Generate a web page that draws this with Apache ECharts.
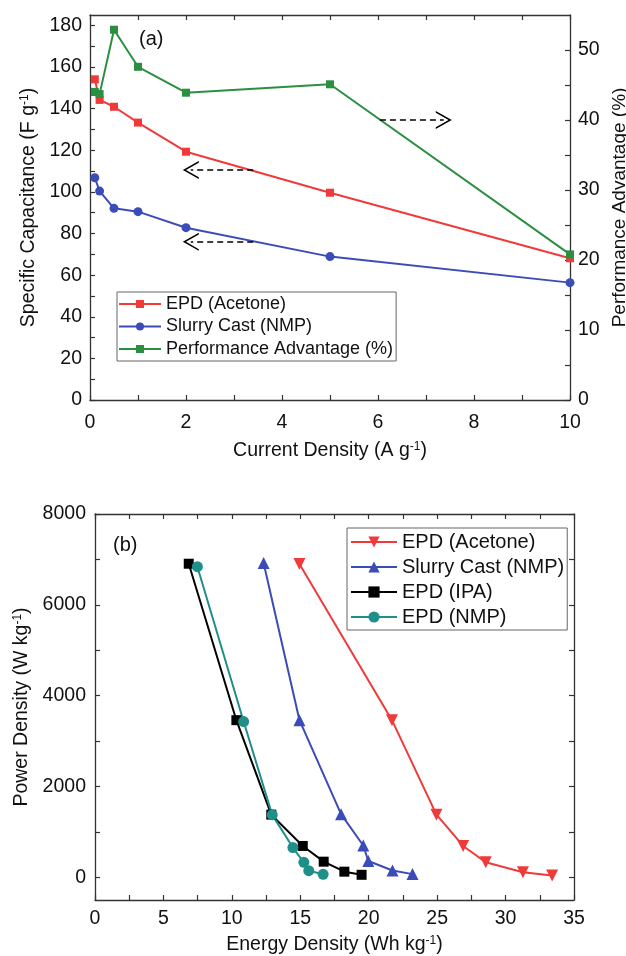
<!DOCTYPE html>
<html>
<head>
<meta charset="utf-8">
<script src="https://cdn.jsdelivr.net/npm/echarts@6/dist/echarts.min.js"></script>
<style>
html,body{margin:0;padding:0;background:#fff;}
#chart{width:626px;height:956px;}
</style>
</head>
<body>
<div id="chart"></div>
<script>
// ---------- Panel (a) data ----------
const currentDensity = [0.1, 0.2, 0.5, 1, 2, 5, 10];
const capEPDAcetone = [154.1, 144.2, 140.9, 133.3, 119.3, 99.6, 68.1];
const capSlurryNMP = [106.8, 100.4, 92.1, 90.5, 82.8, 68.9, 56.4];
const perfAdvantage = [44.0, 43.7, 52.9, 47.6, 43.9, 45.1, 20.8];
// dashed arrow annotations: [tailX, y, headX]
const leftArrows = [[3.4, 110.5, 2.1], [3.4, 76, 2.1]];
const rightArrows = [[6.04, 40, 7.37]];

// ---------- Panel (b) data ----------
const energyEPDAcetone = [14.94, 21.7, 24.95, 26.9, 28.55, 31.27, 33.4];
const powerEPDAcetone = [6900, 3460, 1380, 690, 330, 110, 40];
const energySlurry = [12.32, 14.94, 17.98, 19.6, 19.97, 21.74, 23.2];
const powerSlurry = [6920, 3460, 1390, 700, 360, 150, 70];
const energyEPDIPA = [6.85, 10.33, 12.88, 15.18, 16.71, 18.22, 19.48];
const powerEPDIPA = [6905, 3460, 1380, 690, 344, 124, 55];
const energyEPDNMP = [7.48, 10.86, 12.95, 14.46, 15.26, 15.62, 16.67];
const powerEPDNMP = [6840, 3430, 1375, 655, 330, 145, 66];

const zip = (xs, ys) => xs.map((x, i) => [x, ys[i]]);

const FONT = 'Arial, "Liberation Sans", sans-serif';
const RED = '#f03a3a', BLUE = '#3b4cb8', GREEN = '#2b8f40', BLACK = '#000000', TEAL = '#1f8f8a';
const AX = '#333';

const rich = {
  n: {fontSize: 19.5, fontFamily: FONT, color: '#111'},
  s: {fontSize: 12, fontFamily: FONT, color: '#111', verticalAlign: 'top'}
};

const chevron = 'path://M0,14 L8,0 L16,14 L14.5,14 L8,2.8 L1.5,14 Z';

function axisCommon(extra) {
  return Object.assign({
    type: 'value',
    axisLine: {show: true, onZero: false, lineStyle: {color: AX, width: 1.3}},
    axisTick: {show: true, inside: true, length: 5, lineStyle: {color: AX, width: 1.2}},
    splitLine: {show: false},
    axisLabel: {fontSize: 19.5, fontFamily: FONT, color: '#111'},
    nameTextStyle: {fontSize: 19.5, fontFamily: FONT, color: '#111', rich: rich}
  }, extra);
}

const chart = echarts.init(document.getElementById('chart'), null, {renderer: 'canvas'});

const option = {
  backgroundColor: '#fff',
  animation: false,
  grid: [
    {left: 90, right: 56, top: 15, height: 385, containLabel: false, outerBoundsMode: 'none'},
    {left: 95, right: 52, top: 514, height: 386, containLabel: false, outerBoundsMode: 'none'}
  ],
  xAxis: [
    axisCommon({gridIndex: 0, min: 0, max: 10, interval: 1, position: 'bottom',
      axisLabel: {fontSize: 19.5, fontFamily: FONT, color: '#111', margin: 13,
        formatter: v => (v % 2 === 0 ? String(v) : '')},
      name: '{n|Current Density (A g}{s|-1}{n|)}', nameLocation: 'middle', nameGap: 41}),
    axisCommon({gridIndex: 0, min: 0, max: 10, interval: 1, position: 'top',
      axisLabel: {show: false}}),
    axisCommon({gridIndex: 1, min: 0, max: 35, interval: 2.5, position: 'bottom',
      axisLabel: {fontSize: 19.5, fontFamily: FONT, color: '#111', margin: 9,
        formatter: v => (v % 5 === 0 ? String(v) : '')},
      name: '{n|Energy Density (Wh kg}{s|-1}{n|)}', nameLocation: 'middle', nameGap: 35}),
    axisCommon({gridIndex: 1, min: 0, max: 35, interval: 2.5, position: 'top',
      axisLabel: {show: false}})
  ],
  yAxis: [
    axisCommon({gridIndex: 0, min: 0, max: 185, interval: 10, position: 'left',
      axisLabel: {fontSize: 19.5, fontFamily: FONT, color: '#111', margin: 8, showMaxLabel: false,
        formatter: v => (v % 20 === 0 && v <= 180 ? String(v) : '')},
      name: '{n|Specific Capacitance (F g}{s|-1}{n|)}', nameLocation: 'middle', nameGap: 51}),
    axisCommon({gridIndex: 0, min: 0, max: 55, interval: 5, position: 'right',
      axisLabel: {fontSize: 19.5, fontFamily: FONT, color: '#111', margin: 8, showMaxLabel: false,
        formatter: v => (v % 10 === 0 && v <= 50 ? String(v) : '')},
      name: 'Performance Advantage (%)', nameLocation: 'middle', nameGap: 24,
      nameTextStyle: {fontSize: 19, fontFamily: FONT, color: '#111'}}),
    axisCommon({gridIndex: 1, min: -500, max: 8000, position: 'left',
      axisTick: {show: true, inside: true, length: 5, lineStyle: {color: AX, width: 1.2},
        customValues: [0, 1000, 2000, 3000, 4000, 5000, 6000, 7000, 8000]},
      axisLabel: {fontSize: 19.5, fontFamily: FONT, color: '#111', margin: 9,
        customValues: [0, 2000, 4000, 6000, 8000], formatter: v => String(v)},
      name: '{n|Power Density (W kg}{s|-1}{n|)}', nameLocation: 'middle', nameGap: 56}),
    axisCommon({gridIndex: 1, min: -500, max: 8000, position: 'right',
      axisTick: {show: true, inside: true, length: 5, lineStyle: {color: AX, width: 1.2},
        customValues: [0, 1000, 2000, 3000, 4000, 5000, 6000, 7000, 8000]},
      axisLabel: {show: false}})
  ],
  legend: [
    {
      orient: 'vertical', left: 117, top: 292,
      data: ['EPD (Acetone)', 'Slurry Cast (NMP)', 'Performance Advantage (%)'],
      itemWidth: 42, itemHeight: 10, itemGap: 4.5,
      padding: [3, 3, 3, 1],
      borderColor: '#666', borderWidth: 1, borderRadius: 0,
      textStyle: {fontSize: 18, fontFamily: FONT, color: '#111'},
      selectedMode: false
    },
    {
      orient: 'vertical', left: 347, top: 528,
      data: ['EPD (Acetone) ', 'Slurry Cast (NMP) ', 'EPD (IPA)', 'EPD (NMP)'],
      formatter: name => name.trim(),
      itemWidth: 46, itemHeight: 14, itemGap: 5,
      padding: [4, 3, 3, 3],
      borderColor: '#666', borderWidth: 1, borderRadius: 0,
      textStyle: {fontSize: 20, fontFamily: FONT, color: '#111'},
      selectedMode: false
    }
  ],
  graphic: [
    {type: 'text', left: 139, top: 29, style: {text: '(a)', fontSize: 20, fontFamily: FONT, fill: '#111'}},
    {type: 'text', left: 113, top: 535, style: {text: '(b)', fontSize: 20, fontFamily: FONT, fill: '#111'}}
  ],
  series: [
    {
      name: 'EPD (Acetone)', type: 'line', xAxisIndex: 0, yAxisIndex: 0,
      data: zip(currentDensity, capEPDAcetone),
      symbol: 'rect', symbolSize: 8, color: RED,
      lineStyle: {width: 2, color: RED}, itemStyle: {color: RED},
      markLine: {
        silent: true, animation: false,
        symbol: ['none', chevron], symbolSize: [18, 16],
        label: {show: false},
        lineStyle: {color: '#000', type: [6, 4], width: 1.5},
        data: leftArrows.map(a => [{coord: [a[0], a[1]]}, {coord: [a[2], a[1]]}])
      }
    },
    {
      name: 'Slurry Cast (NMP)', type: 'line', xAxisIndex: 0, yAxisIndex: 0,
      data: zip(currentDensity, capSlurryNMP),
      symbol: 'circle', symbolSize: 9, color: BLUE,
      lineStyle: {width: 2, color: BLUE}, itemStyle: {color: BLUE}
    },
    {
      name: 'Performance Advantage (%)', type: 'line', xAxisIndex: 0, yAxisIndex: 1,
      data: zip(currentDensity, perfAdvantage),
      symbol: 'rect', symbolSize: 8, color: GREEN,
      lineStyle: {width: 2, color: GREEN}, itemStyle: {color: GREEN},
      markLine: {
        silent: true, animation: false,
        symbol: ['none', chevron], symbolSize: [18, 16],
        label: {show: false},
        lineStyle: {color: '#000', type: [6, 4], width: 1.5},
        data: rightArrows.map(a => [{coord: [a[0], a[1]]}, {coord: [a[2], a[1]]}])
      }
    },
    {
      name: 'EPD (Acetone) ', type: 'line', xAxisIndex: 2, yAxisIndex: 2,
      data: zip(energyEPDAcetone, powerEPDAcetone),
      symbol: 'triangle', symbolRotate: 180, symbolSize: 12, color: RED,
      lineStyle: {width: 2, color: RED}, itemStyle: {color: RED}
    },
    {
      name: 'Slurry Cast (NMP) ', type: 'line', xAxisIndex: 2, yAxisIndex: 2,
      data: zip(energySlurry, powerSlurry),
      symbol: 'triangle', symbolSize: 12, color: BLUE,
      lineStyle: {width: 2, color: BLUE}, itemStyle: {color: BLUE}
    },
    {
      name: 'EPD (IPA)', type: 'line', xAxisIndex: 2, yAxisIndex: 2,
      data: zip(energyEPDIPA, powerEPDIPA),
      symbol: 'rect', symbolSize: 10, color: BLACK,
      lineStyle: {width: 2, color: BLACK}, itemStyle: {color: BLACK}
    },
    {
      name: 'EPD (NMP)', type: 'line', xAxisIndex: 2, yAxisIndex: 2,
      data: zip(energyEPDNMP, powerEPDNMP),
      symbol: 'circle', symbolSize: 11, color: TEAL,
      lineStyle: {width: 2, color: TEAL}, itemStyle: {color: TEAL}
    }
  ]
};

chart.setOption(option);
</script>
</body>
</html>
